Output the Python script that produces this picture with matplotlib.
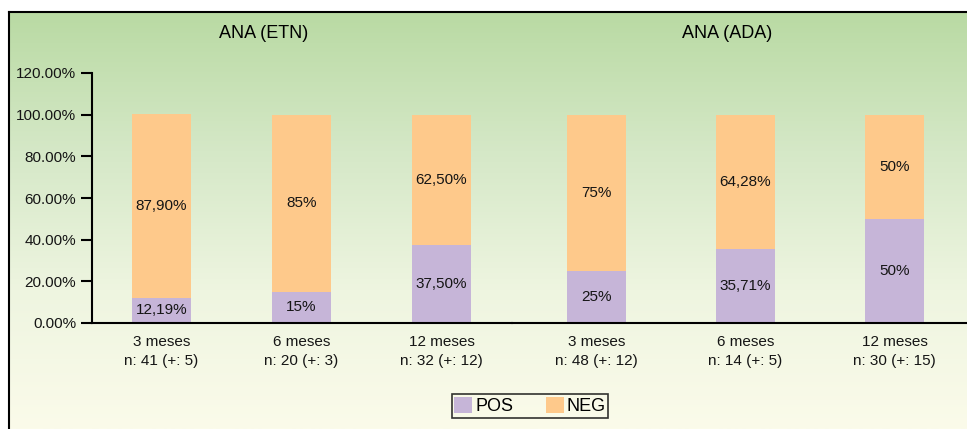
import numpy as np
import matplotlib
matplotlib.use("Agg")
import matplotlib.pyplot as plt
from matplotlib.patches import Patch
from matplotlib.colors import LinearSegmentedColormap

plt.rcParams["font.family"] = ["Liberation Sans", "DejaVu Sans"]

# --- data ---
groups = ["ANA (ETN)", "ANA (ADA)"]
cat_labels_etn = ["3 meses\nn: 41 (+: 5)", "6 meses\nn: 20 (+: 3)", "12 meses\nn: 32 (+: 12)"]
cat_labels_ada = ["3 meses\nn: 48 (+: 12)", "6 meses\nn: 14 (+: 5)", "12 meses\nn: 30 (+: 15)"]
pos_etn = [12.19, 15.0, 37.50]
neg_etn = [87.90, 85.0, 62.50]
pos_ada = [25.0, 35.71, 50.0]
neg_ada = [75.0, 64.28, 50.0]
yticks = [0, 20, 40, 60, 80, 100, 120]

POS_COLOR = "#c6b5d8"
NEG_COLOR = "#fec98b"

W, H = 967, 429
fig = plt.figure(figsize=(W / 100, H / 100), dpi=100)
fig.patch.set_facecolor("white")


def fx(px):
    return px / W


def fy(py):
    return 1 - py / H


# gradient panel behind the chart
bg = fig.add_axes([fx(9), 0, 1 - fx(9) + 0.01, fy(12)], zorder=-5)
cmap = LinearSegmentedColormap.from_list(
    "bg", ["#b9daa3", "#d5e8c7", "#eef5e0", "#fbfbea"])
grad = np.linspace(0, 1, 256).reshape(-1, 1)
bg.imshow(grad, aspect="auto", cmap=cmap, extent=[0, 1, 0, 1], origin="upper")
bg.set_xlim(0, 1)
bg.set_ylim(0, 1)
bg.set_xticks([])
bg.set_yticks([])
for side in ["right", "bottom"]:
    bg.spines[side].set_visible(False)
for side in ["left", "top"]:
    bg.spines[side].set_linewidth(1.5)
    bg.spines[side].set_color("black")

y0, y1 = fy(323), fy(73)
ax1 = fig.add_axes([fx(91.5), y0, fx(511.5) - fx(91.5), y1 - y0])
ax2 = fig.add_axes([fx(511.5), y0, fx(969) - fx(511.5), y1 - y0])


def fmt(v):
    if abs(v - round(v)) < 1e-9:
        return f"{int(round(v))}%"
    return f"{v:.2f}".replace(".", ",") + "%"


def draw(ax, pos, neg, labels, width):
    x = np.arange(len(pos))
    ax.bar(x, pos, width=width, color=POS_COLOR, zorder=2)
    ax.bar(x, neg, width=width, bottom=pos, color=NEG_COLOR, zorder=2)
    for xi, p, n in zip(x, pos, neg):
        ax.text(xi, p / 2, fmt(p), ha="center", va="center", fontsize=11, color="#151515")
        ax.text(xi, p + n / 2, fmt(n), ha="center", va="center", fontsize=11, color="#151515")
    ax.set_xticks(x)
    ax.set_xticklabels(labels, fontsize=11, linespacing=1.4, color="#151515")
    ax.tick_params(axis="x", length=0, pad=9)
    ax.set_ylim(0, 120)
    ax.patch.set_visible(False)
    for side in ["top", "right"]:
        ax.spines[side].set_visible(False)
    ax.spines["bottom"].set_linewidth(1.5)
    ax.spines["left"].set_linewidth(1.5)


draw(ax1, pos_etn, neg_etn, cat_labels_etn, 0.42)
draw(ax2, pos_ada, neg_ada, cat_labels_ada, 0.396)
ax1.set_xlim(-0.5, 2.5)
ax2.set_xlim(-0.57, 2.5)

ax1.set_yticks(yticks)
ax1.set_yticklabels([f"{v:.2f}%" for v in yticks], fontsize=11, color="#151515")
ax1.tick_params(axis="y", length=8, width=1.5, pad=3)
ax2.spines["left"].set_visible(False)
ax2.set_yticks([])

fig.text(fx(264), fy(33), groups[0], ha="center", va="center", fontsize=13)
fig.text(fx(727), fy(33), groups[1], ha="center", va="center", fontsize=13)

handles = [Patch(facecolor=POS_COLOR, label="POS"), Patch(facecolor=NEG_COLOR, label="NEG")]
leg = fig.legend(handles=handles, loc="center", bbox_to_anchor=(fx(530), fy(406)),
                 ncol=2, fontsize=13, frameon=True, fancybox=False,
                 edgecolor="black", handlelength=1.0, handleheight=1.0,
                 handletextpad=0.15, columnspacing=1.8, borderpad=0.15,
                 borderaxespad=0)
leg.get_frame().set_facecolor("none")
leg.get_frame().set_linewidth(1.2)

fig.savefig("out.png", dpi=100)
